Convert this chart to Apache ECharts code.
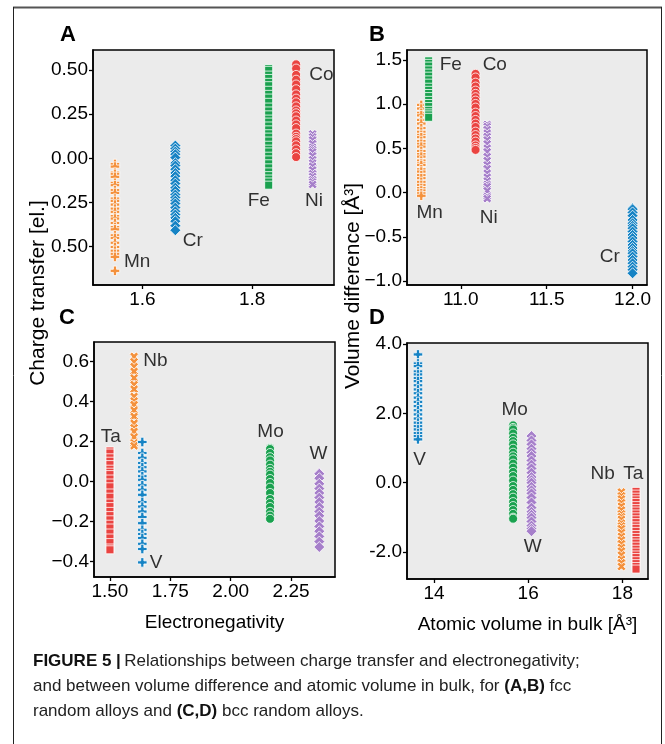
<!DOCTYPE html>
<html>
<head>
<meta charset="utf-8">
<script src="https://cdn.jsdelivr.net/npm/echarts@6/dist/echarts.min.js"></script>
<style>
  html, body { margin: 0; padding: 0; background: #ffffff; }
  #chart { width: 665px; height: 744px; }
</style>
</head>
<body>
<div id="chart"></div>
<script>
// ---- fcc random alloys (panels A, B) ----
const fccNames = ['Mn', 'Cr', 'Fe', 'Co', 'Ni'];
const fccElectroneg = [1.55, 1.66, 1.83, 1.88, 1.91];
const fccBulkVolume = [10.77, 12.0, 10.813, 11.086, 11.154];

const fccChargeMn = [-0.032, -0.047, -0.081, -0.088, -0.105, -0.139, -0.152, -0.18, -0.196, -0.228, -0.241, -0.262, -0.285, -0.303, -0.327, -0.341, -0.366, -0.389, -0.402, -0.436, -0.451, -0.478, -0.502, -0.523, -0.541, -0.558, -0.637];
const fccChargeCr = [0.072, 0.055, 0.038, 0.023, 0.004, -0.027, -0.041, -0.062, -0.083, -0.101, -0.124, -0.143, -0.166, -0.184, -0.205, -0.222, -0.24, -0.256, -0.279, -0.3, -0.318, -0.337, -0.356, -0.381, -0.407];
const fccChargeFe = [0.508, 0.498, 0.471, 0.452, 0.43, 0.411, 0.385, 0.362, 0.341, 0.317, 0.29, 0.268, 0.246, 0.222, 0.205, 0.183, 0.161, 0.139, 0.12, 0.098, 0.074, 0.052, 0.036, 0.012, -0.009, -0.031, -0.054, -0.077, -0.098, -0.117, -0.134, -0.152];
const fccChargeCo = [0.532, 0.508, 0.472, 0.445, 0.418, 0.391, 0.362, 0.338, 0.317, 0.294, 0.271, 0.255, 0.238, 0.214, 0.192, 0.171, 0.14, 0.122, 0.109, 0.096, 0.074, 0.051, 0.029, 0.007];
const fccChargeNi = [0.138, 0.121, 0.104, 0.083, 0.062, 0.049, 0.036, 0.014, -0.008, -0.027, -0.045, -0.066, -0.087, -0.103, -0.121, -0.134, -0.148];

const fccVolDiffMn = [0.992, 0.951, 0.902, 0.874, 0.822, 0.781, 0.729, 0.688, 0.653, 0.627, 0.584, 0.552, 0.52, 0.471, 0.436, 0.407, 0.362, 0.331, 0.313, 0.264, 0.238, 0.197, 0.163, 0.121, 0.087, 0.052, 0.024, -0.008, -0.036];
const fccVolDiffCr = [-0.176, -0.188, -0.224, -0.261, -0.309, -0.347, -0.376, -0.403, -0.441, -0.479, -0.514, -0.553, -0.592, -0.627, -0.661, -0.686, -0.724, -0.762, -0.799, -0.838, -0.872, -0.912];
const fccVolDiffFe = [1.49, 1.462, 1.431, 1.388, 1.352, 1.317, 1.275, 1.238, 1.192, 1.157, 1.121, 1.086, 1.043, 1.008, 0.973, 0.931, 0.902, 0.879, 0.852];
const fccVolDiffCo = [1.343, 1.302, 1.244, 1.2, 1.154, 1.117, 1.079, 1.041, 1.003, 0.962, 0.905, 0.866, 0.822, 0.781, 0.742, 0.69, 0.651, 0.612, 0.577, 0.534, 0.505, 0.483];
const fccVolDiffNi = [0.771, 0.747, 0.712, 0.672, 0.634, 0.596, 0.551, 0.502, 0.461, 0.407, 0.362, 0.313, 0.271, 0.219, 0.174, 0.131, 0.093, 0.068, 0.021, -0.045, -0.068];

// ---- bcc random alloys (panels C, D) ----
const bccNames = ['Ta', 'Nb', 'V', 'Mo', 'W'];
const bccElectroneg = [1.5, 1.6, 1.634, 2.163, 2.367];
const bccBulkVolume = [18.29, 17.98, 13.66, 15.68, 16.07];

const bccChargeTa = [0.152, 0.142, 0.118, 0.101, 0.084, 0.061, 0.046, 0.034, 0.012, -0.008, -0.027, -0.058, -0.079, -0.108, -0.126, -0.15, -0.171, -0.192, -0.214, -0.233, -0.258, -0.283, -0.306, -0.333, -0.342];
const bccChargeNb = [0.625, 0.598, 0.574, 0.55, 0.517, 0.484, 0.461, 0.425, 0.402, 0.384, 0.356, 0.325, 0.291, 0.268, 0.25, 0.222, 0.192, 0.178];
const bccChargeV = [0.197, 0.142, 0.118, 0.092, 0.071, 0.05, 0.026, 0.008, -0.019, -0.042, -0.067, -0.103, -0.126, -0.151, -0.178, -0.209, -0.242, -0.263, -0.283, -0.312, -0.338, -0.405];
const bccChargeMo = [0.167, 0.162, 0.142, 0.121, 0.105, 0.084, 0.063, 0.048, 0.034, 0.012, -0.008, -0.031, -0.058, -0.088, -0.108, -0.128, -0.152, -0.171, -0.187];
const bccChargeW = [0.042, 0.038, 0.016, -0.012, -0.036, -0.058, -0.081, -0.103, -0.128, -0.151, -0.172, -0.198, -0.225, -0.249, -0.275, -0.301, -0.328];

const bccVolDiffTa = [-0.252, -0.331, -0.418, -0.497, -0.571, -0.662, -0.748, -0.819, -0.904, -0.987, -1.072, -1.153, -1.246, -1.318, -1.406, -1.497, -1.581, -1.668, -1.744, -1.832, -1.921, -2.004, -2.087, -2.161, -2.252, -2.336, -2.418, -2.493];
const bccVolDiffNb = [-0.27, -0.38, -0.47, -0.577, -0.68, -0.79, -0.9, -0.98, -1.059, -1.17, -1.25, -1.327, -1.44, -1.55, -1.656, -1.76, -1.87, -1.973, -2.09, -2.212, -2.31, -2.42];
const bccVolDiffV = [3.70, 3.44, 3.363, 3.21, 3.124, 3.02, 2.93, 2.81, 2.691, 2.58, 2.452, 2.33, 2.209, 2.09, 1.97, 1.85, 1.731, 1.63, 1.537, 1.43, 1.344, 1.25];
const bccVolDiffMo = [1.653, 1.58, 1.537, 1.42, 1.298, 1.2, 1.105, 0.98, 0.865, 0.76, 0.672, 0.55, 0.433, 0.31, 0.19, 0.06, -0.098, -0.21, -0.33, -0.433, -0.56, -0.675, -0.79, -0.9, -1.01, -1.04];
const bccVolDiffW = [1.344, 1.22, 1.105, 0.98, 0.87, 0.767, 0.64, 0.52, 0.41, 0.288, 0.16, 0.07, 0.0, -0.12, -0.22, -0.309, -0.43, -0.57, -0.721, -0.84, -0.93, -1.01, -1.12, -1.24, -1.33, -1.4];

// Element name annotations, [x, y] in each panel's data units (order follows the names lists)
const labelPosA = [[1.5905, -0.583], [1.6917, -0.468], [1.812, -0.243], [1.926, 0.475], [1.9125, -0.243]];
const labelPosB = [[10.819, -0.23], [11.867, -0.724], [10.942, 1.445], [11.198, 1.445], [11.163, -0.286]];
const labelPosC = [[1.504, 0.225], [1.6886, 0.605], [1.6906, -0.408], [2.165, 0.25], [2.364, 0.1385]];
const labelPosD = [[18.229, 0.268], [17.582, 0.268], [13.696, 0.652], [15.713, 2.114], [16.096, -1.837]];

// Tick positions
const ticksAx = [1.6, 1.8];
const ticksAy = [-0.5, -0.25, 0, 0.25, 0.5];
const ticksBx = [11.0, 11.5, 12.0];
const ticksBy = [-1.0, -0.5, 0, 0.5, 1.0, 1.5];
const ticksCx = [1.5, 1.75, 2.0, 2.25];
const ticksCy = [-0.4, -0.2, 0, 0.2, 0.4, 0.6];
const ticksDx = [14, 16, 18];
const ticksDy = [-2, 0, 2, 4];

// ---- styling ----
const FONT = '"Liberation Sans", Arial, Helvetica, sans-serif';
const ORANGE = '#f4913c', BLUE = '#1683c4', GREEN = '#1aa14f', RED = '#ea4441', PURPLE = '#a67fca';
const PLUS = 'path://M-1,-3H1V-1H3V1H1V3H-1V1H-3V-1H-1Z';
const MARK = {
  plus:    { symbol: PLUS, rotate: 0, size: 9.5 },
  cross:   { symbol: PLUS, rotate: 45, size: 9.5 },
  circle:  { symbol: 'circle', rotate: 0, size: 9 },
  square:  { symbol: 'rect', rotate: 0, size: 8 },
  diamond: { symbol: 'diamond', rotate: 0, size: 11 }
};
const fccStyle = [['plus', ORANGE], ['diamond', BLUE], ['square', GREEN], ['circle', RED], ['cross', PURPLE]];
const bccStyle = [['square', RED], ['cross', ORANGE], ['plus', BLUE], ['circle', GREEN], ['diamond', PURPLE]];

function columnSeries(name, xVal, ys, style, gi) {
  const m = MARK[style[0]];
  return {
    type: 'scatter', name: name, xAxisIndex: gi, yAxisIndex: gi,
    data: ys.map(y => [xVal, y]),
    symbol: m.symbol, symbolRotate: m.rotate, symbolSize: m.size,
    itemStyle: { color: style[1], borderColor: '#ffffff', borderWidth: 0.8, opacity: 1 },
    silent: true, animation: false, z: 3
  };
}

function labelSeries(names, pos, gi) {
  return {
    type: 'scatter', xAxisIndex: gi, yAxisIndex: gi, symbolSize: 0, silent: true, animation: false, z: 5,
    data: names.map((n, i) => ({ name: n, value: pos[i] })),
    label: { show: true, position: 'inside', formatter: '{b}', fontFamily: FONT, fontSize: 19, color: '#000', align: 'center', verticalAlign: 'middle' }
  };
}

const MINUS = '\u2212';
const fmt = (digits, minus) => v => (v < -1e-9 ? minus : '') + Math.abs(v).toFixed(digits);

function axis(gi, min, max, ticks, formatter, extra) {
  return Object.assign({
    type: 'value', gridIndex: gi, min: min, max: max, scale: true,
    axisLine: { show: true, onZero: false, lineStyle: { color: '#000', width: 1.5 } },
    axisTick: { show: true, inside: false, length: 4, lineStyle: { color: '#000', width: 1.3 }, customValues: ticks },
    axisLabel: { customValues: ticks, formatter: formatter, fontFamily: FONT, fontSize: 19, color: '#000', margin: 5 },
    splitLine: { show: false }
  }, extra || {});
}

const gridStyle = { show: true, backgroundColor: '#ebebeb', borderColor: '#000', borderWidth: 1.5, containLabel: false };

const series = [];
const fccCharge = [fccChargeMn, fccChargeCr, fccChargeFe, fccChargeCo, fccChargeNi];
const fccVol = [fccVolDiffMn, fccVolDiffCr, fccVolDiffFe, fccVolDiffCo, fccVolDiffNi];
const bccCharge = [bccChargeTa, bccChargeNb, bccChargeV, bccChargeMo, bccChargeW];
const bccVol = [bccVolDiffTa, bccVolDiffNb, bccVolDiffV, bccVolDiffMo, bccVolDiffW];
fccNames.forEach((n, i) => series.push(columnSeries(n, fccElectroneg[i], fccCharge[i], fccStyle[i], 0)));
fccNames.forEach((n, i) => series.push(columnSeries(n, fccBulkVolume[i], fccVol[i], fccStyle[i], 1)));
bccNames.forEach((n, i) => series.push(columnSeries(n, bccElectroneg[i], bccCharge[i], bccStyle[i], 2)));
bccNames.forEach((n, i) => series.push(columnSeries(n, bccBulkVolume[i], bccVol[i], bccStyle[i], 3)));
series.push(labelSeries(fccNames, labelPosA, 0));
series.push(labelSeries(fccNames, labelPosB, 1));
series.push(labelSeries(bccNames, labelPosC, 2));
series.push(labelSeries(bccNames, labelPosD, 3));

const nameStyle = { fontFamily: FONT, fontSize: 19, color: '#000' };
const titleFont = '21px ' + FONT;

const option = {
  backgroundColor: '#ffffff',
  animation: false,
  grid: [
    Object.assign({ left: 93, top: 50, width: 241, height: 235 }, gridStyle),
    Object.assign({ left: 407, top: 50, width: 240, height: 235 }, gridStyle),
    Object.assign({ left: 94, top: 342, width: 241, height: 235 }, gridStyle),
    Object.assign({ left: 407, top: 343, width: 241, height: 236 }, gridStyle)
  ],
  xAxis: [
    axis(0, 1.51, 1.949, ticksAx, fmt(1, MINUS)),
    axis(1, 10.687, 12.084, ticksBx, fmt(1, MINUS)),
    axis(2, 1.434, 2.432, ticksCx, fmt(2, MINUS), { name: 'Electronegativity', nameLocation: 'middle', nameGap: 36, nameTextStyle: nameStyle }),
    axis(3, 13.427, 18.544, ticksDx, fmt(0, '-'), { name: 'Atomic volume in bulk [Å³]', nameLocation: 'middle', nameGap: 36, nameTextStyle: nameStyle })
  ],
  yAxis: [
    axis(0, -0.717, 0.613, ticksAy, fmt(2, MINUS)),
    axis(1, -1.045, 1.613, ticksBy, fmt(1, MINUS)),
    axis(2, -0.478, 0.697, ticksCy, fmt(1, MINUS)),
    axis(3, -2.78, 4.03, ticksDy, fmt(1, '-'))
  ],
  series: series,
  graphic: [
    // figure frame
    { type: 'line', z: 50, shape: { x1: 13, y1: 7.5, x2: 662, y2: 7.5 }, style: { stroke: '#555', lineWidth: 2 } },
    { type: 'line', z: 50, shape: { x1: 13.5, y1: 7, x2: 13.5, y2: 744 }, style: { stroke: '#222', lineWidth: 1 } },
    { type: 'line', z: 50, shape: { x1: 661.5, y1: 7, x2: 661.5, y2: 744 }, style: { stroke: '#222', lineWidth: 1 } },
    // panel letters
    { type: 'text', z: 50, x: 68, y: 35, style: { text: 'A', font: 'bold 22px ' + FONT, fill: '#000', align: 'center', verticalAlign: 'middle' } },
    { type: 'text', z: 50, x: 377, y: 35, style: { text: 'B', font: 'bold 22px ' + FONT, fill: '#000', align: 'center', verticalAlign: 'middle' } },
    { type: 'text', z: 50, x: 67, y: 318, style: { text: 'C', font: 'bold 22px ' + FONT, fill: '#000', align: 'center', verticalAlign: 'middle' } },
    { type: 'text', z: 50, x: 377, y: 318, style: { text: 'D', font: 'bold 22px ' + FONT, fill: '#000', align: 'center', verticalAlign: 'middle' } },
    // shared y-axis titles; the left one sits on a white strip
    { type: 'rect', z: 55, shape: { x: 26, y: 194, width: 25, height: 198 }, style: { fill: '#ffffff' } },
    { type: 'text', z: 60, x: 38, y: 293, rotation: Math.PI / 2,
      style: { text: 'Charge transfer [el.]', font: titleFont, fill: '#000', align: 'center', verticalAlign: 'middle' } },
    { type: 'text', z: 60, x: 353, y: 286, rotation: Math.PI / 2,
      style: { text: 'Volume difference [Å³]', font: titleFont, fill: '#000', align: 'center', verticalAlign: 'middle' } },
    // caption
    { type: 'text', z: 50, x: 33, y: 649,
      style: {
        text: '{b|FIGURE 5 |} {r|Relationships between charge transfer and electronegativity;}\n' +
              '{r|and between volume difference and atomic volume in bulk, for }{b|(A,B)}{r| fcc}\n' +
              '{r|random alloys and }{b|(C,D)}{r| bcc random alloys.}',
        verticalAlign: 'top',
        rich: {
          r: { font: '17px ' + FONT, fill: '#222', lineHeight: 25 },
          b: { font: 'bold 17px ' + FONT, fill: '#111', lineHeight: 25 }
        }
      } }
  ]
};

const chart = echarts.init(document.getElementById('chart'), null, { renderer: 'canvas' });
chart.setOption(option);
</script>
</body>
</html>
